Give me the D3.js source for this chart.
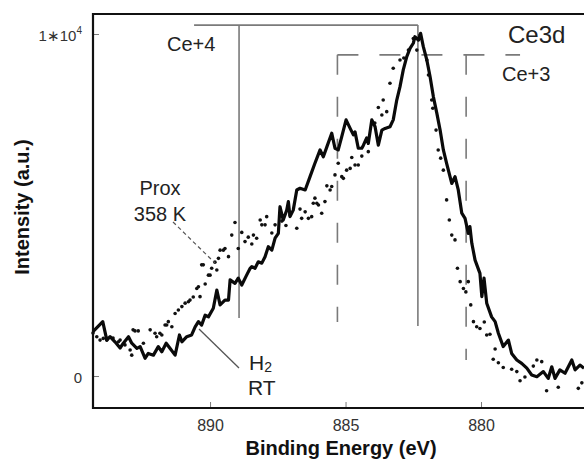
<!DOCTYPE html>
<html>
<head>
<meta charset="utf-8">
<script src="https://cdn.jsdelivr.net/npm/d3@7"></script>
<style>
  body { margin: 0; background: #fff; }
  text { font-family: "Liberation Sans", Arial, Helvetica, sans-serif; }
</style>
</head>
<body>
<div id="graph"></div>
<script>
const width = 584;
const height = 461;

// H2 RT spectrum (solid line) -- binding energy (eV), intensity (counts)
const h2Energy = [
  894.32, 893.96, 893.81, 893.69, 893.51, 893.32, 893.20, 893.01, 892.89, 892.70,
  892.58, 892.40, 892.28, 892.09, 891.91, 891.78, 891.62, 891.48, 891.29, 891.13,
  891.04, 890.86, 890.68, 890.55, 890.43, 890.31, 890.18, 890.06, 889.88, 889.75,
  889.63, 889.45, 889.32, 889.26, 889.08, 888.96, 888.83, 888.65, 888.52, 888.46,
  888.34, 888.22, 888.09, 887.97, 887.85, 887.72, 887.60, 887.48, 887.42, 887.30,
  887.17, 887.11, 887.05, 886.93, 886.80, 886.68, 886.49, 886.31, 886.13, 885.94,
  885.82, 885.69, 885.51, 885.39, 885.27, 885.14, 884.98, 884.83, 884.71, 884.65,
  884.53, 884.40, 884.34, 884.22, 884.16, 884.03, 883.91, 883.79, 883.66, 883.54,
  883.36, 883.24, 883.11, 882.99, 882.87, 882.74, 882.62, 882.50, 882.44, 882.31,
  882.23, 882.13, 882.00, 881.88, 881.76, 881.63, 881.51, 881.39, 881.27, 881.08,
  880.96, 880.84, 880.71, 880.59, 880.47, 880.41, 880.34, 880.22, 880.04, 879.97,
  879.89, 879.79, 879.61, 879.48, 879.36, 879.18, 878.99, 878.87, 878.68, 878.50,
  878.31, 878.13, 877.94, 877.70, 877.52, 877.39, 877.27, 877.09, 876.90, 876.65,
  876.53, 876.35, 876.20
];
const h2Intensity = [
  1300, 1590, 1050, 1150, 1000, 820, 960, 1150, 960, 810,
  860, 520, 660, 610, 860, 710, 960, 810, 610, 1200,
  1000, 1150, 1200, 1440, 1590, 1490, 1780, 1730, 1980, 2510,
  2080, 2220, 2220, 2810, 2710, 2860, 2660, 2950, 3150, 3200,
  3150, 3340, 3300, 3490, 3780, 3680, 4030, 4170, 4950, 4560,
  4850, 5100, 4660, 4850, 5440, 5490, 5440, 5830, 6220, 6610,
  6410, 6700, 7100, 6660, 6610, 7000, 7490, 7240, 7050, 7140,
  6660, 6660, 6750, 6960, 6800, 7490, 7290, 6750, 7190, 7240,
  7290, 7490, 8070, 8460, 8950, 9340, 9580, 9730, 9920, 9820,
  10020, 9630, 9240, 8750, 8170, 7680, 7190, 6610, 6220, 5630,
  5830, 5440, 4760, 4610, 4170, 4370, 3880, 3390, 3000, 2320,
  2860, 2130, 1730, 1590, 1250, 860, 1050, 660, 470, 370,
  230, 30, -20, 130, -70, 270, -70, 180, 80, 470,
  180, 320, 230
];

// Prox 358 K spectrum (dots)
const proxEnergy = [
  894.32, 894.18, 894.06, 893.94, 893.81, 893.58, 893.38, 893.32, 893.14, 892.95,
  892.89, 892.84, 892.77, 892.65, 892.46, 892.21, 892.03, 891.97, 891.85, 891.78,
  891.66, 891.60, 891.54, 891.41, 891.29, 891.17, 891.04, 890.92, 890.80, 890.74,
  890.62, 890.49, 890.43, 890.37, 890.31, 890.25, 890.18, 890.06, 890.00, 889.94,
  889.82, 889.75, 889.69, 889.63, 889.51, 889.45, 889.32, 889.20, 889.08, 888.96,
  888.83, 888.71, 888.59, 888.46, 888.40, 888.28, 888.15, 888.09, 887.97, 887.91,
  887.72, 887.60, 887.35, 887.20, 887.05, 886.80, 886.68, 886.62, 886.49, 886.37,
  886.25, 886.19, 886.13, 886.06, 886.00, 885.88, 885.76, 885.69, 885.57, 885.51,
  885.39, 885.27, 885.14, 885.08, 884.96, 884.83, 884.77, 884.65, 884.53, 884.40,
  884.16, 883.92, 883.79, 883.66, 883.61, 883.48, 883.36, 883.24, 882.99, 882.85,
  882.68, 882.50, 882.37, 882.25, 882.00, 881.94, 881.82, 881.78, 881.66, 881.58,
  881.49, 881.39, 881.27, 881.17, 881.08, 880.96, 880.87, 880.77, 880.65, 880.56,
  880.47, 880.38, 880.28, 880.16, 880.04, 879.88, 879.79, 879.67, 879.55, 879.48,
  879.36, 879.18, 878.87, 878.68, 878.56, 878.38, 878.07, 877.94, 877.76, 877.58,
  877.15, 876.41, 876.28
];
const proxIntensity = [
  1260, 1150, 1050, 1100, 1050, 1110, 1000, 1050, 910, 760,
  610, 1350, 1320, 1320, 960, 1350, 1250, 1150, 1250, 1200,
  1490, 1490, 1590, 1440, 1830, 1930, 2030, 2130, 2170, 2220,
  2310, 2560, 2610, 2320, 3250, 3250, 2690, 2950, 2950, 3150,
  3330, 3100, 3440, 3680, 3680, 3730, 3490, 4120, 4490, 3730,
  4200, 3930, 4060, 3860, 4120, 4030, 4560, 4420, 4420, 4660,
  4180, 4420, 4530, 4400, 4710, 4320, 4880, 4610, 4800, 4610,
  4660, 5050, 5200, 5050, 5000, 4760, 5100, 5560, 5440, 5540,
  5880, 6220, 5830, 5780, 6020, 6070, 6390, 6170, 6170, 6430,
  6560, 7400, 7850, 7630, 8070, 7730, 8560, 9000, 9240, 9300,
  9530, 9870, 9530, 9970, 9240, 8800, 8070, 7830, 7190, 6610,
  6370, 6020, 5150, 4560, 4120, 3980, 3150, 2760, 2560, 2460,
  2760, 2080, 1590, 1440, 1390, 1580, 1200, 1220, 490, 790,
  390, 250, 200, 130, -140, -30, 290, 470, 420, -430,
  -330, -360, -200
];

const xTicks = [890, 885, 880];
const yTicks = [0, 10000];

// reference peak positions (eV) drawn as the bracket lines
const ce4Peaks = [888.93, 882.33];
const ce4Bottoms = [1700, 1460];
const ce4Top = 10260;
const ce4Start = 890.59;
const ce3Peaks = [885.30, 880.55];
const ce3Bottoms = [1580, 470];
const ce3Top = 9390;
const ce3End = 878.56;

const svg = d3.select("#graph")
  .append("svg")
  .attr("width", width)
  .attr("height", height)
  .style("background", "#fff");

const plotLeft = 93, plotTop = 14, plotBottom = 408, plotRight = 584;

// energy axis runs backwards, like XPS plots always do
const x = d3.scaleLinear().domain([894.32, 876.2]).range([plotLeft, plotRight]);
const y = d3.scaleLinear().domain([-935, 10585]).range([plotBottom, plotTop]);

const grey = "#7a7a7a";

// x ticks (pointing in)
const xAxis = svg.append("g")
  .attr("transform", `translate(0, ${plotBottom})`)
  .call(d3.axisBottom(x).tickValues(xTicks).tickSize(-6).tickPadding(12).tickFormat(d3.format("d")));
xAxis.select(".domain").remove();
xAxis.selectAll("line").attr("stroke", grey);
xAxis.selectAll("text")
  .attr("font-size", 16)
  .attr("fill", "#333")
  .style("font-family", "Liberation Sans, Arial, sans-serif");

// y ticks, label text done by hand because of the 1*10^4
const yAxis = svg.append("g")
  .attr("transform", `translate(${plotLeft}, 0)`)
  .call(d3.axisLeft(y).tickValues(yTicks).tickSize(-6).tickPadding(10).tickFormat(""));
yAxis.select(".domain").remove();
yAxis.selectAll("line").attr("stroke", grey);

yTicks.forEach(v => {
  const t = svg.append("text")
    .attr("x", plotLeft - 11)
    .attr("y", y(v) + 7)
    .attr("text-anchor", "end")
    .attr("font-size", 15)
    .attr("fill", "#333");
  if (v === 0) {
    t.text("0");
  } else {
    const p = Math.round(Math.log10(v));
    t.append("tspan").text(`${v / Math.pow(10, p)}\u221710`);
    t.append("tspan").attr("font-size", 10).attr("dy", -7).text(p);
  }
});

// frame: left, top, bottom (right side runs off the picture)
svg.append("path")
  .attr("d", `M${plotRight + 2},${plotTop} H${plotLeft} V${plotBottom} H${plotRight + 2}`)
  .attr("fill", "none")
  .attr("stroke", "#111")
  .attr("stroke-width", 2.2);

// Ce4+ solid bracket
svg.append("line")
  .attr("x1", x(ce4Start)).attr("x2", x(ce4Peaks[1]))
  .attr("y1", y(ce4Top)).attr("y2", y(ce4Top))
  .attr("stroke", grey).attr("stroke-width", 1.6);
ce4Peaks.forEach((e, i) => {
  svg.append("line")
    .attr("x1", x(e)).attr("x2", x(e))
    .attr("y1", y(ce4Top)).attr("y2", y(ce4Bottoms[i]))
    .attr("stroke", grey).attr("stroke-width", 1.6);
});

// Ce3+ dashed bracket
svg.append("line")
  .attr("x1", x(ce3Peaks[0])).attr("x2", x(ce3End))
  .attr("y1", y(ce3Top)).attr("y2", y(ce3Top))
  .attr("stroke", grey).attr("stroke-width", 1.6)
  .attr("stroke-dasharray", "21,21");
ce3Peaks.forEach((e, i) => {
  svg.append("line")
    .attr("x1", x(e)).attr("x2", x(e))
    .attr("y1", y(ce3Top)).attr("y2", y(ce3Bottoms[i]))
    .attr("stroke", grey).attr("stroke-width", 1.6)
    .attr("stroke-dasharray", "20,22");
});

// the spectra
const h2Data = h2Energy.map((e, i) => ({ e: e, v: h2Intensity[i] }));
const proxData = proxEnergy.map((e, i) => ({ e: e, v: proxIntensity[i] }));

svg.append("g").selectAll("circle")
  .data(proxData)
  .enter()
  .append("circle")
  .attr("cx", d => x(d.e))
  .attr("cy", d => y(d.v))
  .attr("r", 1.8)
  .attr("fill", "#111");

svg.append("path")
  .datum(h2Data)
  .attr("d", d3.line().x(d => x(d.e)).y(d => y(d.v)))
  .attr("fill", "none")
  .attr("stroke", "#0a0a0a")
  .attr("stroke-width", 3.2)
  .attr("stroke-linejoin", "round");

// labels + leader lines
svg.append("line")
  .attr("x1", 173).attr("y1", 222).attr("x2", 215).attr("y2", 263)
  .attr("stroke", "#555").attr("stroke-width", 1.2).attr("stroke-dasharray", "4,3");
svg.append("line")
  .attr("x1", 199).attr("y1", 329).attr("x2", 239).attr("y2", 368)
  .attr("stroke", "#555").attr("stroke-width", 1.3);

const labels = [
  { t: "Ce+4", x: 167, y: 51, size: 20, anchor: "start" },
  { t: "Ce+3", x: 502, y: 81, size: 20, anchor: "start" },
  { t: "Ce3d", x: 508, y: 43, size: 24, anchor: "start" },
  { t: "Prox", x: 160, y: 195, size: 20, anchor: "middle" },
  { t: "358 K", x: 160, y: 221, size: 20, anchor: "middle" },
  { t: "RT", x: 248, y: 395, size: 21, anchor: "start" }
];
labels.forEach(l => {
  svg.append("text")
    .attr("x", l.x).attr("y", l.y)
    .attr("text-anchor", l.anchor)
    .attr("font-size", l.size)
    .attr("fill", "#222")
    .text(l.t);
});

const h2 = svg.append("text")
  .attr("x", 249).attr("y", 370)
  .attr("font-size", 21)
  .attr("fill", "#222");
h2.append("tspan").text("H");
h2.append("tspan").attr("font-size", 14).attr("dy", 2).text("2");

// axis titles
svg.append("text")
  .attr("transform", "translate(29, 207) rotate(-90)")
  .attr("text-anchor", "middle")
  .attr("font-size", 20)
  .attr("font-weight", "bold")
  .attr("fill", "#111")
  .text("Intensity (a.u.)");

svg.append("text")
  .attr("x", 341).attr("y", 455)
  .attr("text-anchor", "middle")
  .attr("font-size", 20)
  .attr("font-weight", "bold")
  .attr("fill", "#111")
  .text("Binding Energy (eV)");
</script>
</body>
</html>
